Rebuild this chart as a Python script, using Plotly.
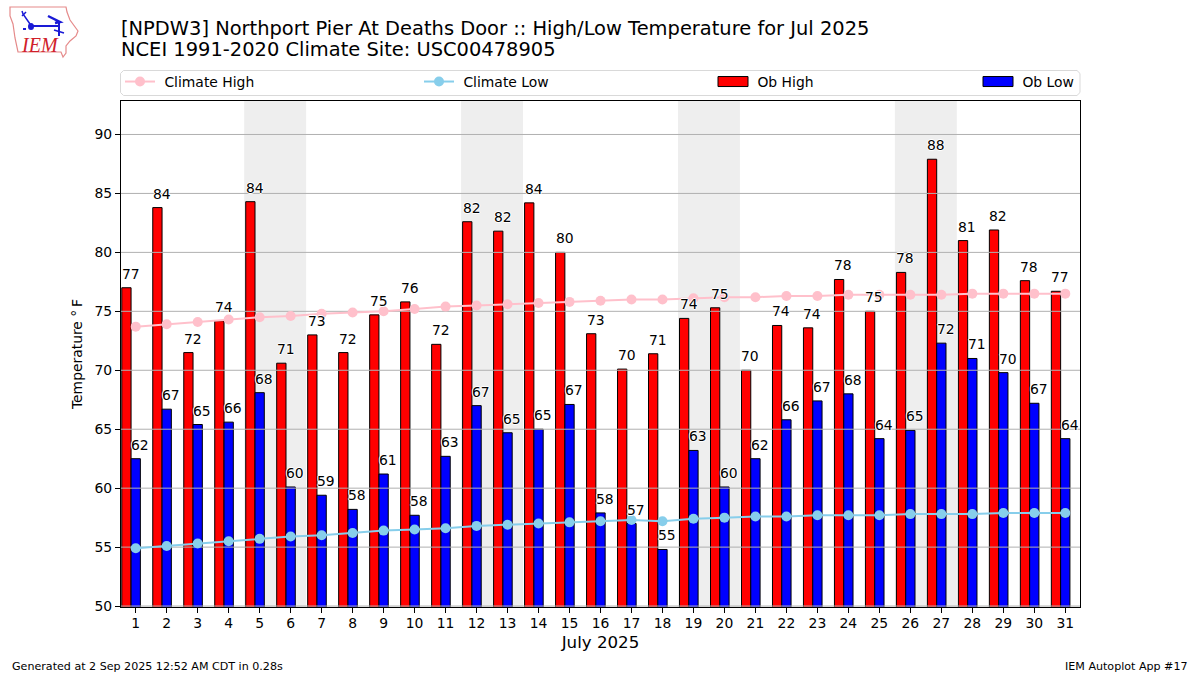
import plotly.graph_objects as go

W, H = 1200, 675
L, R, T, B = 121, 1080, 101, 607

days = list(range(1, 32))
ob_high = [77.0, 83.8, 71.5, 74.2, 84.3, 70.6, 73.0, 71.5, 74.7, 75.8, 72.2, 82.6, 81.8, 84.2, 80.0, 73.1,
           70.1, 71.4, 74.4, 75.3, 70.0, 73.8, 73.6, 77.7, 75.0, 78.3, 87.9, 81.0, 81.9, 77.6, 76.7]
ob_low = [62.5, 66.7, 65.4, 65.6, 68.1, 60.1, 59.4, 58.2, 61.2, 57.7, 62.7, 67.0, 64.7, 65.0, 67.1, 57.9,
          57.0, 54.8, 63.2, 60.1, 62.5, 65.8, 67.4, 68.0, 64.2, 64.9, 72.3, 71.0, 69.8, 67.2, 64.2]
clim_high = [73.7, 73.9, 74.1, 74.3, 74.5, 74.6, 74.8, 74.9, 75.0, 75.2, 75.4, 75.5, 75.6, 75.7, 75.8, 75.9,
             76.0, 76.0, 76.1, 76.2, 76.2, 76.3, 76.3, 76.4, 76.4, 76.4, 76.4, 76.5, 76.5, 76.5, 76.5]
clim_low = [54.9, 55.1, 55.3, 55.5, 55.7, 55.9, 56.0, 56.2, 56.4, 56.5, 56.6, 56.8, 56.9, 57.0, 57.1, 57.2,
            57.3, 57.2, 57.4, 57.5, 57.6, 57.6, 57.7, 57.7, 57.7, 57.8, 57.8, 57.8, 57.9, 57.9, 57.9]
high_labels = [77, 84, 72, 74, 84, 71, 73, 72, 75, 76, 72, 82, 82, 84, 80, 73,
               70, 71, 74, 75, 70, 74, 74, 78, 75, 78, 88, 81, 82, 78, 77]
low_labels = [62, 67, 65, 66, 68, 60, 59, 58, 61, 58, 63, 67, 65, 65, 67, 58,
              57, 55, 63, 60, 62, 66, 67, 68, 64, 65, 72, 71, 70, 67, 64]
weekend_spans = [(5, 6), (12, 13), (19, 20), (26, 27)]
y_ticks = [50, 55, 60, 65, 70, 75, 80, 85, 90]
x_range = [0.525, 31.475]
y_range = [49.92, 92.84]
FONT = "DejaVu Sans"
SHADOW = "1px 0 0 #fff, -1px 0 0 #fff, 0 1px 0 #fff, 0 -1px 0 #fff"


def px(x):
    return (x - L) / (R - L)


def py(y):
    return (B - y) / (B - T)


def path(points, close=False):
    s = "M" + " L".join(f"{px(x):.5f},{py(y):.5f}" for x, y in points)
    return s + (" Z" if close else "")


fig = go.Figure()
fig.add_bar(x=days, y=ob_high, width=0.3, offset=-0.45, name="\u00a0Ob High", legendrank=3, legendwidth=220,
            marker=dict(color="#ff0000", line=dict(color="black", width=1)), hoverinfo="x+y")
fig.add_bar(x=days, y=ob_low, width=0.3, offset=-0.15, name="\u00a0Ob Low", legendrank=4,
            marker=dict(color="#0000ff", line=dict(color="black", width=1)), hoverinfo="x+y")
# gridlines sit over the bars in the reference, so they are a line trace
gx, gy = [], []
for t in y_ticks:
    gx += [x_range[0], x_range[1], None]
    gy += [t, t, None]
fig.add_scatter(x=gx, y=gy, mode="lines", line=dict(color="#b0b0b0", width=1), showlegend=False, hoverinfo="skip")
fig.add_scatter(x=days, y=clim_high, mode="lines+markers", name="\u00a0Climate High", legendrank=1, legendwidth=254,
                line=dict(color="#ffc0cb", width=2), marker=dict(color="#ffc0cb", size=10))
fig.add_scatter(x=days, y=clim_low, mode="lines+markers", name="\u00a0Climate Low", legendrank=2, legendwidth=249,
                line=dict(color="#87ceeb", width=2), marker=dict(color="#87ceeb", size=10))

ann = []
for d, v, lab, off in [(d, v, l, -0.45) for d, v, l in zip(days, ob_high, high_labels)] + \
                      [(d, v, l, -0.15) for d, v, l in zip(days, ob_low, low_labels)]:
    ann.append(dict(x=d + off, y=v, xref="x", yref="y", text=str(lab), showarrow=False,
                    xanchor="left", yanchor="bottom", yshift=4, xshift=-2,
                    font=dict(family=FONT, size=13.9, color="black", shadow=SHADOW)))


def paper_text(x, y, text, size, xanchor="left", yanchor="middle"):
    ann.append(dict(x=px(x), y=py(y), xref="paper", yref="paper", text=text, showarrow=False,
                    xanchor=xanchor, yanchor=yanchor, font=dict(family=FONT, size=size, color="black")))


paper_text(118.5, 29, "[NPDW3] Northport Pier At Deaths Door :: High/Low Temperature for Jul 2025", 19.44)
paper_text(118.5, 50, "NCEI 1991-2020 Climate Site: USC00478905", 19.44)
paper_text(10, 666, "Generated at 2 Sep 2025 12:52 AM CDT in 0.28s", 11.1)
paper_text(1190, 666, "IEM Autoplot App #17", 11.1, xanchor="right")
ann.append(dict(x=px(19), y=py(45), xref="paper", yref="paper", text="<i>IEM</i>", showarrow=False,
                xanchor="left", yanchor="middle",
                font=dict(family="Liberation Serif", size=20, color="#d0202a")))

shapes = []
for a, b in weekend_spans:
    shapes.append(dict(type="rect", xref="x", yref="paper", x0=a - 0.5, x1=b + 0.5, y0=0, y1=1,
                       fillcolor="#eeeeee", line=dict(width=0), layer="below"))
# rounded legend frame
lx0, lx1, ly0, ly1, rr = 120.5, 1080, 70.5, 95.5, 3
shapes.append(dict(type="path", xref="paper", yref="paper", layer="above",
                   path=path([(lx0 + rr, ly0), (lx1 - rr, ly0), (lx1, ly0 + rr), (lx1, ly1 - rr), (lx1 - rr, ly1),
                              (lx0 + rr, ly1), (lx0, ly1 - rr), (lx0, ly0 + rr)], close=True),
                   line=dict(color="#d9d9d9", width=1)))
# IEM logo: state outline and station glyph
outline = [(10, 7), (66, 7), (67, 12), (70, 20), (78, 31), (76, 36), (70, 41), (66, 46), (66, 53), (63, 57),
           (61, 52), (18, 52), (15, 38), (13, 24), (10, 16)]
shapes.append(dict(type="path", xref="paper", yref="paper", layer="above", path=path(outline, close=True),
                   line=dict(color="#e58a8a", width=1.2)))
for seg, w in [([(31, 26), (60, 26)], 2), ([(48, 16), (60, 22), (55, 23)], 2.5), ([(59, 23), (59, 36)], 2),
               ([(30, 24), (23, 14), (22, 11)], 1.5), ([(22, 16), (26, 12)], 1.5), ([(54, 30), (64, 33)], 1.5),
               ([(23, 29), (26, 29)], 2)]:
    shapes.append(dict(type="path", xref="paper", yref="paper", layer="above", path=path(seg),
                       line=dict(color="#1a1ad6", width=w)))
shapes.append(dict(type="circle", xref="paper", yref="paper", layer="above", x0=px(28), x1=px(34),
                   y0=py(30), y1=py(23), fillcolor="#1a1ad6", line=dict(width=0)))

fig.update_layout(
    width=W, height=H, autosize=False,
    margin=dict(l=L, r=W - R, t=T, b=H - B, pad=0),
    plot_bgcolor="white", paper_bgcolor="white",
    barmode="overlay",
    font=dict(family=FONT, size=13.9, color="black"),
    legend=dict(orientation="h", x=px(120), xanchor="left", y=py(66), yanchor="top",
                bgcolor="rgba(0,0,0,0)", borderwidth=0, font=dict(size=13.9, family=FONT),
                itemwidth=30, tracegroupgap=0),
    xaxis=dict(range=x_range, tickmode="array", tickvals=days, ticktext=[str(d) for d in days],
               ticks="outside", ticklen=5, tickwidth=1, tickcolor="black", showgrid=False, zeroline=False,
               showline=True, mirror=True, linecolor="black", linewidth=1, layer="above traces",
               tickfont=dict(size=13.9, family=FONT), ticklabelstandoff=-2,
               title=dict(text="July 2025", font=dict(size=16.67, family=FONT), standoff=6)),
    yaxis=dict(range=y_range, tickmode="array", tickvals=y_ticks, ticktext=[str(t) for t in y_ticks],
               ticks="outside", ticklen=5, tickwidth=1, tickcolor="black", showgrid=False, zeroline=False,
               showline=True, mirror=True, linecolor="black", linewidth=1, layer="above traces",
               tickfont=dict(size=13.9, family=FONT),
               title=dict(text="Temperature °\u2009F", font=dict(size=13.9, family=FONT), standoff=8)),
    annotations=ann, shapes=shapes,
)
fig.write_html("out.html", config=dict(displayModeBar=False),
               post_script="document.body.style.margin='0';document.body.style.overflow='hidden';"
                           "document.querySelectorAll('path.legendbar, path.legendundefined').forEach(function(p){"
                           "p.setAttribute('d','M15,5H-15V-5H15Z');});")
